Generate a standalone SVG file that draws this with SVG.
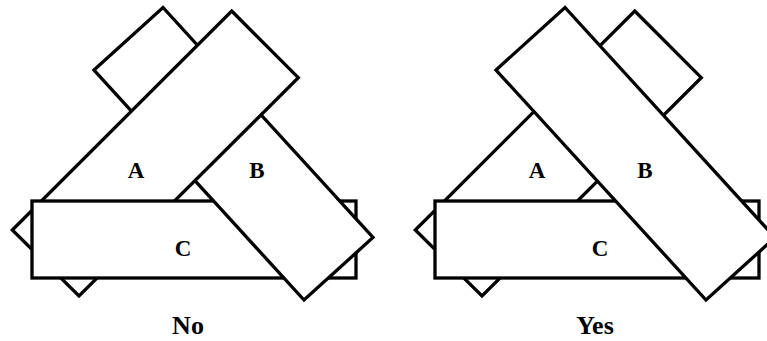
<svg xmlns="http://www.w3.org/2000/svg" xmlns:xlink="http://www.w3.org/1999/xlink" width="767" height="341" viewBox="0 0 767 341">
<style>
.shape{fill:#fff;stroke:#000;stroke-width:3.3;stroke-linejoin:miter}
.lbl{font-family:"Liberation Serif","Times New Roman",serif;font-weight:bold;font-size:23px;text-anchor:middle;fill:#000}
.cap{font-family:"Liberation Serif","Times New Roman",serif;font-weight:bold;font-size:26px;text-anchor:middle;fill:#000}
</style>
<defs>
<polygon id="shapeB-left" class="shape" points="94,70 163,7.5 373,237.5 304,300"/>
<clipPath id="clipC-left"><rect x="30" y="199" width="328" height="81"/></clipPath>
</defs>
<rect width="767" height="341" fill="#fff"/>
<g id="left-figure">
  <g id="left-B"><use xlink:href="#shapeB-left"/></g>
  <g id="left-A"><polygon class="shape" points="231.7,11 298.3,77.7 79,296 12.3,230"/></g>
  <g id="left-C"><rect class="shape" x="32" y="201" width="324" height="77"/></g>
  <g id="left-B-over-C"><use xlink:href="#shapeB-left" clip-path="url(#clipC-left)"/></g>
  <text class="lbl" x="136" y="178">A</text>
  <text class="lbl" x="257" y="178">B</text>
  <text class="lbl" x="183" y="256">C</text>
  <text class="cap" x="188" y="334">No</text>
</g>
<g id="right-figure">
  <g id="right-A"><polygon class="shape" points="634.7,11 701.3,77.7 482,296 415.3,230"/></g>
  <g id="right-C"><rect class="shape" x="435" y="201" width="324" height="77"/></g>
  <g id="right-B"><polygon class="shape" points="496,70 565,7.5 775,237.5 706,300"/></g>
  <text class="lbl" x="537" y="178">A</text>
  <text class="lbl" x="645" y="178">B</text>
  <text class="lbl" x="600" y="256">C</text>
  <text class="cap" x="595" y="334">Yes</text>
</g>
</svg>
